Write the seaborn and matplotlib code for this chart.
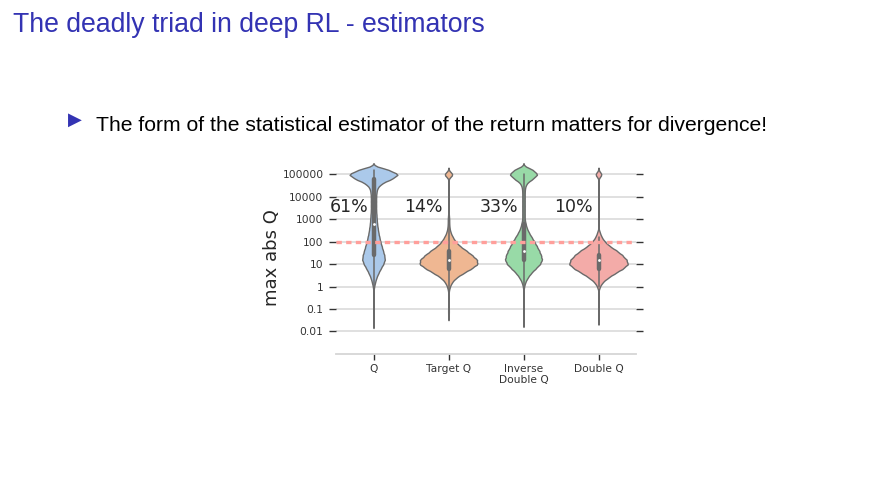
import numpy as np
import pandas as pd
import matplotlib
matplotlib.use("Agg")
import matplotlib.pyplot as plt
from matplotlib.collections import PolyCollection
import seaborn as sns

# ---------------- data ----------------
categories = ["Q", "Target Q", "Inverse\nDouble Q", "Double Q"]
percent_labels = ["61%", "14%", "33%", "10%"]
threshold = 100
ytick_values = [0.01, 0.1, 1, 10, 100, 1000, 10000, 100000]
ytick_labels = ["0.01", "0.1", "1", "10", "100", "1000", "10000", "100000"]

# log10(max abs Q) levels and number of runs at each level
q_levels = [5.2, 5.0, 4.8, 4.6, 4.4, 4.2, 4.0, 3.8, 3.6, 3.4, 3.2, 3.0, 2.8, 2.6,
            2.4, 2.2, 2.0, 1.8, 1.6, 1.4, 1.2, 1.0, 0.8, 0.6, 0.4, 0.2, 0.0,
            -0.4, -0.8, -1.2, -1.55]
q_counts = [48, 78, 56, 25, 12, 9, 8, 8, 8, 8, 9, 10, 11, 13,
            15, 18, 21, 25, 29, 33, 35, 30, 22, 15, 9, 5, 2,
            1, 1, 1, 1]

target_levels = [5.0, 4.4, 4.0, 3.6, 3.2, 3.0, 2.8, 2.6, 2.4, 2.2, 2.0, 1.8, 1.6,
                 1.4, 1.2, 1.0, 0.8, 0.6, 0.4, 0.2, 0.0, -0.2, -0.6, -1.0, -1.2]
target_counts = [13, 1, 1, 1, 1, 2, 2, 3, 6, 12, 20, 32, 50,
                 66, 80, 82, 64, 42, 22, 10, 4, 1, 1, 1, 1]

inverse_levels = [5.2, 5.0, 4.8, 4.6, 4.4, 4.2, 4.0, 3.8, 3.6, 3.4, 3.2, 3.0, 2.8,
                  2.6, 2.4, 2.2, 2.0, 1.8, 1.6, 1.4, 1.2, 1.0, 0.8, 0.6, 0.4, 0.2,
                  0.0, -0.4, -0.8, -1.2, -1.5]
inverse_counts = [32, 48, 30, 10, 5, 4, 4, 4, 4, 4, 4, 4, 7,
                  11, 18, 27, 36, 44, 52, 58, 62, 55, 40, 25, 14, 6,
                  2, 1, 1, 1, 1]

double_levels = [5.0, 4.4, 4.0, 3.6, 3.2, 2.8, 2.4, 2.2, 2.0, 1.8, 1.6, 1.4, 1.2,
                 1.0, 0.8, 0.6, 0.4, 0.2, 0.0, -0.4, -0.8, -1.4]
double_counts = [10, 1, 1, 1, 1, 1, 4, 9, 18, 32, 52, 68, 80,
                 85, 70, 48, 28, 12, 4, 1, 1, 1]

level_sets = [q_levels, target_levels, inverse_levels, double_levels]
count_sets = [q_counts, target_counts, inverse_counts, double_counts]

rows = []
for cat, lv, ct in zip(categories, level_sets, count_sets):
    for v in np.repeat(lv, ct):
        rows.append((cat, v))
df = pd.DataFrame(rows, columns=["estimator", "log_max_abs_q"])

# ---------------- style ----------------
sns.set_style("whitegrid")
plt.rcParams["font.family"] = ["DejaVu Sans"]

fig = plt.figure(figsize=(8.91, 4.92), dpi=100)
fig.patch.set_facecolor("white")

W, H = 891, 492
ax = fig.add_axes([336 / W, 1 - 354 / H, 300 / W, (354 - 161) / H])

BW = 0.1
sns.violinplot(
    data=df, x="estimator", y="log_max_abs_q", order=categories,
    color="white", inner="box", cut=3,
    bw_method=lambda k: BW / np.std(k.dataset, ddof=1),
    width=0.78, linewidth=1.0, linecolor="#6a6a6a", density_norm="area",
    inner_kws={"box_width": 3.2, "whis_width": 1.1, "marker": "o"},
    ax=ax,
)

# colour each violin with the (desaturated) pastel palette
pal = sns.color_palette("pastel", len(categories))
polys = [c for c in ax.collections if isinstance(c, PolyCollection)]
for poly, col in zip(polys, pal):
    poly.set_facecolor(sns.desaturate(col, 0.75))

# small white median dots
for ln in ax.lines:
    if ln.get_marker() == "o":
        ln.set_markersize(2.0)
        ln.set_markeredgewidth(0)
        ln.set_markerfacecolor("white")

ax.axhline(np.log10(threshold), color="#ff9f9b", lw=2.4, dashes=(1.6, 1.3),
           zorder=6)

for i, lab in enumerate(percent_labels):
    ax.text(i - 0.33, 3.53, lab, ha="center", va="center", fontsize=12.5,
            color="#262626", zorder=7)

ax.set_ylim(-3.01, 5.6)
ax.set_xlim(-0.5, 3.5)
ax.set_yticks(np.log10(ytick_values))
ax.set_yticklabels(ytick_labels)
ax.set_xlabel("")
ax.set_ylabel("max abs Q", fontsize=13, labelpad=1, color="#262626")

ax.yaxis.grid(True, color="#dddddd", lw=1.3)
ax.xaxis.grid(False)
ax.set_axisbelow(True)
for s in ["left", "right", "top"]:
    ax.spines[s].set_visible(False)
ax.spines["bottom"].set_color("#d5d5d5")
ax.spines["bottom"].set_linewidth(1.3)

ax.tick_params(axis="y", left=True, right=True, length=5, width=1,
               color="#333333", labelsize=7.7, pad=4, labelcolor="#333333")
ax.tick_params(axis="x", bottom=True, length=4, width=1, color="#333333",
               labelsize=7.7, pad=3, labelcolor="#333333")

# ---------------- slide text ----------------
blue = "#3333b3"
fig.text(13 / W, 1 - 32.5 / H, "The deadly triad in deep RL - estimators",
         color=blue, fontsize=19.2, va="baseline", ha="left",
         family=["Liberation Sans", "DejaVu Sans"])
fig.text(68 / W, 1 - 125 / H, "\u25B6", color=blue, fontsize=13,
         va="baseline", ha="left", family=["DejaVu Sans"])
fig.text(96.5 / W, 1 - 131 / H,
         "The form of the statistical estimator of the return matters for divergence!",
         color="black", fontsize=15.25, va="baseline", ha="left",
         family=["Liberation Sans", "DejaVu Sans"])

fig.savefig("out.png", dpi=100, facecolor="white")
